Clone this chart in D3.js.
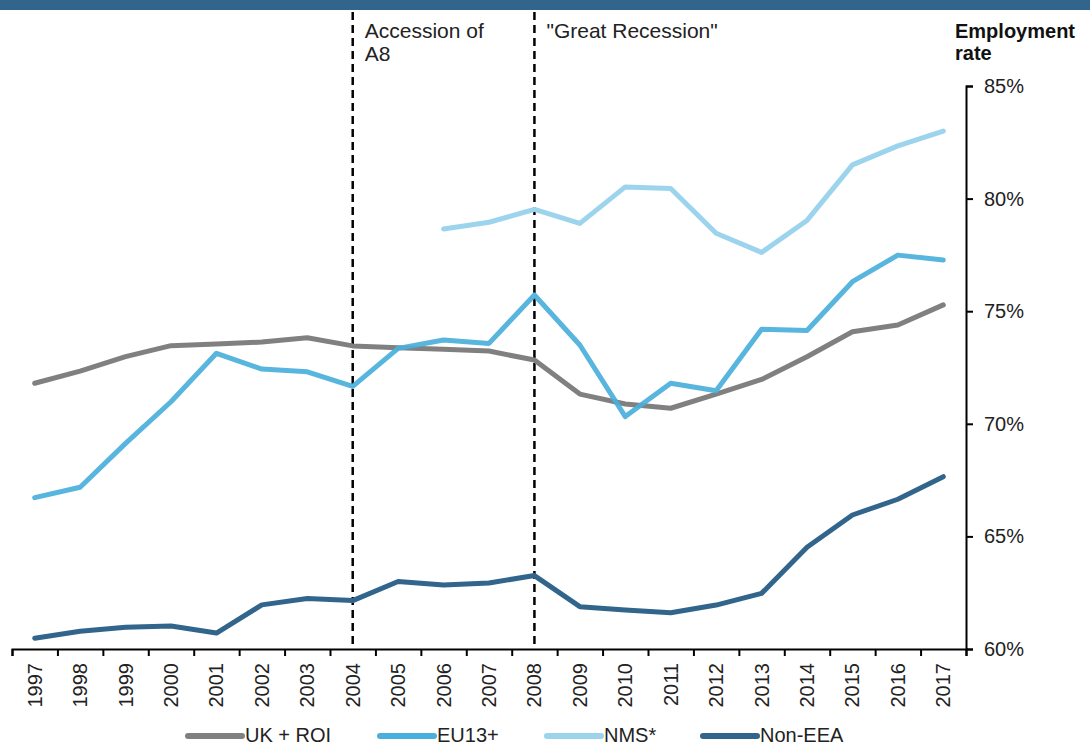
<!DOCTYPE html>
<html>
<head>
<meta charset="utf-8">
<style>
body { margin:0; background:#fff; }
text { font-family:"Liberation Sans", Arial, sans-serif; }
</style>
</head>
<body>
<div id="chart"></div>

<script src="https://d3js.org/d3.v7.min.js" charset="utf-8"></script>

<script>

// chart data
var years = ["1997","1998","1999","2000","2001","2002","2003","2004","2005","2006","2007",
             "2008","2009","2010","2011","2012","2013","2014","2015","2016","2017"];

var ukRoi  = [71.8,72.34,72.98,73.47,73.54,73.63,73.82,73.46,73.38,73.31,73.23,
              72.83,71.32,70.88,70.69,71.32,71.97,72.98,74.09,74.39,75.28];
var eu13   = [66.72,67.18,69.13,70.98,73.13,72.43,72.31,71.66,73.35,73.72,73.57,
              75.72,73.5,70.32,71.8,71.47,74.2,74.14,76.31,77.49,77.27];
var nms    = [null,null,null,null,null,null,null,null,null,78.65,78.95,
              79.52,78.9,80.52,80.45,78.46,77.61,79.03,81.5,82.34,83.0];
var nonEea = [60.48,60.79,60.97,61.02,60.71,61.96,62.24,62.15,63.0,62.84,62.93,
              63.26,61.88,61.73,61.61,61.95,62.47,64.52,65.95,66.65,67.65];

var seriesNames  = ["UK + ROI","EU13+","NMS*","Non-EEA"];
var seriesValues = [ukRoi, eu13, nms, nonEea];
var seriesColors = ["#808080","#4AAFDB","#9DD4ED","#31658C"];

var yTicks = [60,65,70,75,80,85];

// events marked with dashed lines
var eventYears  = ["2004","2008"];
var eventLabels = [["Accession of","A8"], ["\"Great Recession\""]];

var W = 1090, H = 746;
var plotL = 12, plotR = 966, plotT = 86, plotB = 649;

var svg = d3.select("#chart").append("svg")
    .attr("width", W)
    .attr("height", H);

// header bar
svg.append("rect")
   .attr("x",0).attr("y",0)
   .attr("width",W).attr("height",10)
   .style("fill","#31658C");

var x = d3.scaleBand().domain(years).range([plotL, plotR]);
var xEdge = d3.scaleLinear().domain([0, years.length]).range([plotL, plotR]);
var y = d3.scaleLinear().domain([60,85]).range([plotB, plotT]);

function cx(yr) { return x(yr) + x.bandwidth() / 2; }

// dashed event lines
eventYears.forEach(function(yr, i) {
  svg.append("line")
     .attr("x1", cx(yr)).attr("x2", cx(yr))
     .attr("y1", 12).attr("y2", plotB)
     .style("stroke","#000")
     .style("stroke-width",2.5)
     .style("stroke-dasharray","8,5");
  var t = svg.append("text")
     .attr("x", cx(yr) + 12)
     .attr("y", 38)
     .style("font-size","21px")
     .style("fill","#222");
  eventLabels[i].forEach(function(s, j) {
    t.append("tspan").attr("x", cx(yr) + 12).attr("dy", j == 0 ? 0 : 22.5).text(s);
  });
});

// x axis: ticks on the category edges, labels under the centres
var xAxis = svg.append("g")
   .attr("transform","translate(0," + plotB + ")")
   .call(d3.axisBottom(xEdge).ticks(years.length).tickSize(7).tickFormat(""));
xAxis.select(".domain").style("stroke","#000").style("stroke-width",2);
xAxis.selectAll(".tick line").style("stroke","#000").style("stroke-width",2);

var xLab = svg.append("g")
   .attr("transform","translate(0," + plotB + ")")
   .call(d3.axisBottom(x).tickSize(0).tickPadding(0));
xLab.select(".domain").remove();
xLab.selectAll("text")
   .attr("transform","rotate(-90)")
   .attr("x",-14)
   .attr("y",0)
   .attr("dy","0.35em")
   .style("text-anchor","end")
   .style("font-size","20px")
   .style("fill","#222");

// y axis on the right
var yAxis = svg.append("g")
   .attr("transform","translate(" + plotR + ",0)")
   .call(d3.axisRight(y).tickValues(yTicks).tickSize(7).tickPadding(11)
          .tickFormat(function(d){ return d + "%"; }));
yAxis.select(".domain").style("stroke","#000").style("stroke-width",2);
yAxis.selectAll(".tick line").style("stroke","#000").style("stroke-width",2);
yAxis.selectAll("text").style("font-size","20px").style("fill","#222");

// axis title
svg.append("text")
   .attr("x",955).attr("y",38)
   .style("font-size","20px").style("font-weight","bold").style("fill","#111")
   .text("Employment");
svg.append("text")
   .attr("x",955).attr("y",60)
   .style("font-size","20px").style("font-weight","bold").style("fill","#111")
   .text("rate");

// lines
var line = d3.line()
   .defined(function(d){ return d[1] != null; })
   .x(function(d){ return cx(d[0]); })
   .y(function(d){ return y(d[1]); });

seriesValues.forEach(function(vals, i) {
  svg.append("path")
     .attr("d", line(years.map(function(yr, k){ return [yr, vals[k]]; })))
     .style("fill","none")
     .style("stroke", seriesColors[i])
     .style("stroke-width",5)
     .style("stroke-linejoin","round")
     .style("stroke-linecap","round")
     .style("stroke-opacity", i == 1 ? 0.92 : 1);
});

// legend
var legX = [188, 380, 547, 703];
seriesNames.forEach(function(name, i) {
  svg.append("line")
     .attr("x1", legX[i]).attr("x2", legX[i] + 54)
     .attr("y1", 736).attr("y2", 736)
     .style("stroke", seriesColors[i])
     .style("stroke-width",6)
     .style("stroke-linecap","round");
  svg.append("text")
     .attr("x", legX[i] + 57).attr("y", 742)
     .style("font-size","20px").style("fill","#222")
     .text(name);
});

</script>
</body>
</html>
